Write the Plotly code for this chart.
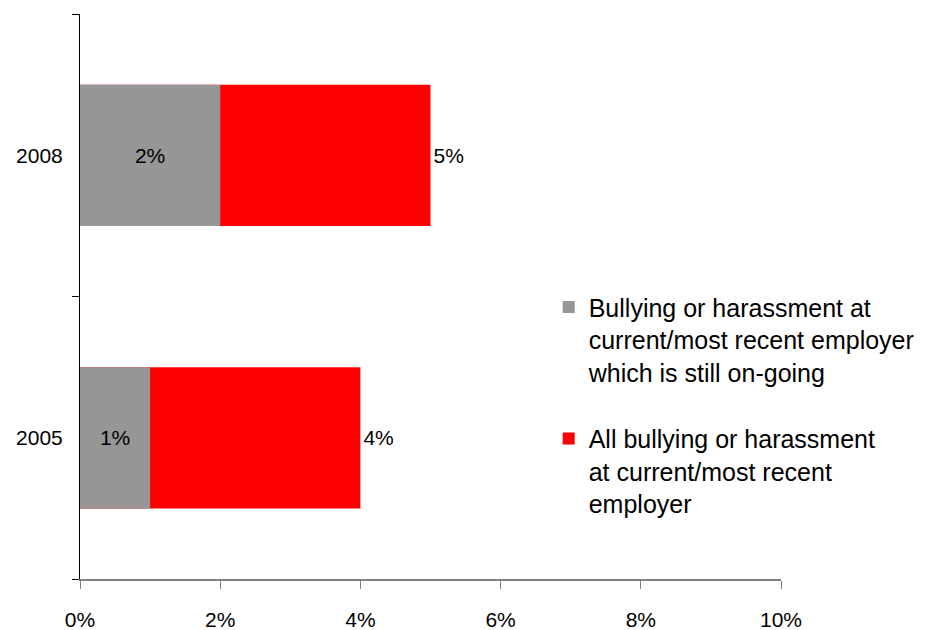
import plotly.graph_objects as go

years = ["2005", "2008"]
ongoing = [1, 2]          # still on-going, % of respondents
all_bullying = [4, 5]     # all bullying or harassment, % of respondents
x_ticks = [0, 2, 4, 6, 8, 10]
x_tick_labels = [f"{v}%" for v in x_ticks]

FONT = "Liberation Sans Narrow, Arial Narrow, Liberation Sans, Arial, sans-serif"

fig = go.Figure()

fig.add_trace(go.Bar(
    y=years, x=all_bullying, orientation="h",
    name="All bullying or harassment<br>at current/most recent<br>employer",
    marker=dict(color="#ff0000", line=dict(width=0)),
    text=[f"{v}%" for v in all_bullying], textposition="outside",
    textfont=dict(color="black", size=21, family=FONT),
    cliponaxis=False, width=0.5,
    legendgroup="b", legendrank=2,
))
fig.add_trace(go.Bar(
    y=years, x=ongoing, orientation="h",
    name="Bullying or harassment at<br>current/most recent employer<br>which is still on-going",
    marker=dict(color="#969696", line=dict(width=0)),
    text=[f"{v}%" for v in ongoing], textposition="inside",
    insidetextanchor="middle",
    textfont=dict(color="black", size=21, family=FONT),
    width=0.5,
    legendgroup="a", legendrank=1,
))

fig.update_layout(
    width=930, height=630,
    margin=dict(l=80, r=149, t=14, b=51, autoexpand=False),
    barmode="overlay",
    plot_bgcolor="white", paper_bgcolor="white",
    font=dict(family=FONT, size=21, color="black"),
    uniformtext=dict(minsize=21, mode="show"),
    legend=dict(
        xref="container", yref="container",
        x=0.590, y=0.549, xanchor="left", yanchor="top",
        traceorder="grouped", tracegroupgap=31, valign="top",
        bgcolor="rgba(0,0,0,0)",
        font=dict(size=25, family=FONT, color="black"),
        itemwidth=30,
    ),
    xaxis=dict(
        range=[0, 10], tickvals=x_ticks, ticktext=x_tick_labels,
        showgrid=False, zeroline=False,
        showline=True, linecolor="#808080", linewidth=2,
        ticks="outside", ticklen=8, tickcolor="#808080", tickwidth=1,
        tickfont=dict(size=21), ticklabelstandoff=13,
    ),
    yaxis=dict(
        categoryorder="array", categoryarray=years,
        range=[-0.5, 1.5],
        showgrid=False, zeroline=False,
        showline=True, linecolor="black", linewidth=1,
        ticks="outside", ticklen=7, tickcolor="black", tickson="boundaries",
        tickfont=dict(size=21), ticklabelstandoff=12,
    ),
)

fig.write_html("out.html")
